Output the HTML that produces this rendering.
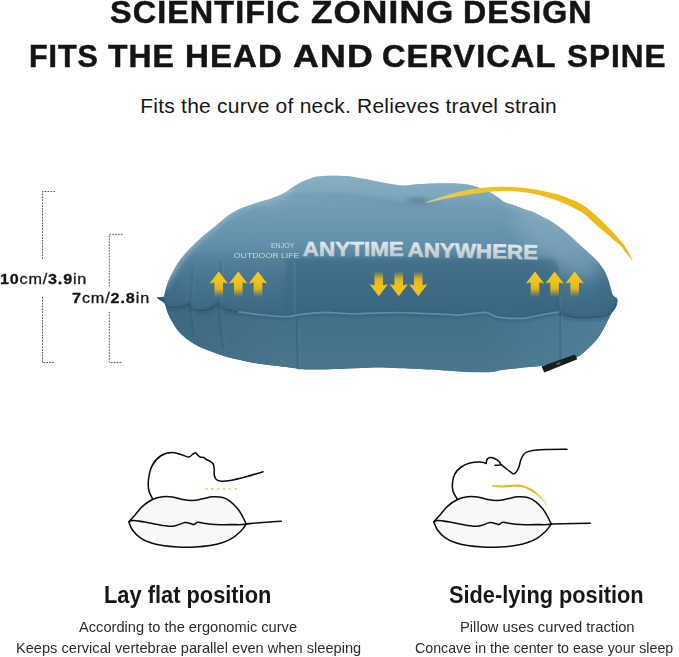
<!DOCTYPE html>
<html><head><meta charset="utf-8">
<style>
html,body{margin:0;padding:0;background:#fff;}
body{width:679px;height:657px;position:relative;overflow:hidden;font-family:"Liberation Sans",sans-serif;color:#161616;}
.t{position:absolute;white-space:nowrap;transform-origin:0 0;line-height:1;}
.b{font-weight:bold;}
#d1,#d2{-webkit-text-stroke:.3px #161616;}
.hw{font-size:31px;font-weight:bold;letter-spacing:1px;-webkit-text-stroke:.5px #141414;color:#141414;}
#sub{left:140.3px;top:94.7px;font-size:21px;letter-spacing:.23px;}
#d1{left:-0.2px;top:271px;font-size:15px;letter-spacing:.73px;transform:scaleX(1.08);}
#d2{left:71.5px;top:290.1px;font-size:15px;letter-spacing:.8px;transform:scaleX(1.08);}
#c1{left:104.2px;top:584.1px;font-size:23px;font-weight:bold;transform:scaleX(.949);}
#c2{left:449px;top:584.1px;font-size:23px;font-weight:bold;transform:scaleX(.946);}
#p1{left:79px;top:619.4px;font-size:15px;color:#2b2b2b;transform:scaleX(.976);}
#p2{left:16px;top:640px;font-size:15px;color:#2b2b2b;transform:scaleX(.974);}
#p3{left:460px;top:619.4px;font-size:15px;color:#2b2b2b;transform:scaleX(.983);}
#p4{left:414.8px;top:640px;font-size:15px;color:#2b2b2b;transform:scaleX(.947);}
</style></head><body>
<svg id="art" width="679" height="657" viewBox="0 0 679 657" style="position:absolute;left:0;top:0">
<defs>
<clipPath id="pc"><path d="M156.60 297.50 C157.33 297.47 159.78 297.48 161.00 297.30 C162.22 297.12 163.07 297.93 163.90 296.40 C164.73 294.87 165.15 290.90 166.00 288.10 C166.85 285.30 167.77 282.43 169.00 279.60 C170.23 276.77 171.87 273.93 173.40 271.10 C174.93 268.27 176.38 265.33 178.20 262.60 C180.02 259.87 182.27 257.13 184.30 254.70 C186.33 252.27 188.37 250.13 190.40 248.00 C192.43 245.87 194.47 243.83 196.50 241.90 C198.53 239.97 200.57 238.15 202.60 236.40 C204.63 234.65 206.63 233.05 208.70 231.40 C210.77 229.75 212.87 228.23 215.00 226.50 C217.13 224.77 219.05 222.98 221.50 221.00 C223.95 219.02 227.10 216.40 229.70 214.60 C232.30 212.80 234.63 211.47 237.10 210.20 C239.57 208.93 242.05 207.95 244.50 207.00 C246.95 206.05 249.35 205.32 251.80 204.50 C254.25 203.68 256.75 202.83 259.20 202.10 C261.65 201.37 264.05 200.88 266.50 200.10 C268.95 199.32 271.43 198.33 273.90 197.40 C276.37 196.47 279.08 195.53 281.30 194.50 C283.52 193.47 285.23 192.43 287.20 191.20 C289.17 189.97 291.15 188.40 293.10 187.10 C295.05 185.80 296.95 184.50 298.90 183.40 C300.85 182.30 302.83 181.32 304.80 180.50 C306.77 179.68 308.60 179.15 310.70 178.50 C312.80 177.85 315.07 177.03 317.40 176.60 C319.73 176.17 322.25 176.05 324.70 175.90 C327.15 175.75 329.63 175.73 332.10 175.70 C334.57 175.67 337.05 175.63 339.50 175.70 C341.95 175.77 344.35 175.87 346.80 176.10 C349.25 176.33 351.75 176.70 354.20 177.10 C356.65 177.50 359.05 178.07 361.50 178.50 C363.95 178.93 366.43 179.25 368.90 179.70 C371.37 180.15 373.85 180.70 376.30 181.20 C378.75 181.70 381.15 182.22 383.60 182.70 C386.05 183.18 388.53 183.68 391.00 184.10 C393.47 184.52 396.18 184.97 398.40 185.20 C400.62 185.43 402.37 185.53 404.30 185.50 C406.23 185.47 407.43 185.25 410.00 185.00 C412.57 184.75 415.62 184.27 419.70 184.00 C423.78 183.73 429.58 183.53 434.50 183.40 C439.42 183.27 444.30 183.12 449.20 183.20 C454.10 183.28 460.22 183.55 463.90 183.90 C467.58 184.25 468.85 184.72 471.30 185.30 C473.75 185.88 476.15 186.57 478.60 187.40 C481.05 188.23 483.53 189.17 486.00 190.30 C488.47 191.43 491.18 192.87 493.40 194.20 C495.62 195.53 497.57 197.03 499.30 198.30 C501.03 199.57 502.07 200.87 503.80 201.80 C505.53 202.73 507.48 203.17 509.70 203.90 C511.92 204.63 514.63 205.32 517.10 206.20 C519.57 207.08 522.05 208.30 524.50 209.20 C526.95 210.10 529.22 210.53 531.80 211.60 C534.38 212.67 537.55 214.40 540.00 215.60 C542.45 216.80 544.47 217.73 546.50 218.80 C548.53 219.87 550.20 220.73 552.20 222.00 C554.20 223.27 556.47 224.90 558.50 226.40 C560.53 227.90 562.40 229.35 564.40 231.00 C566.40 232.65 568.48 234.50 570.50 236.30 C572.52 238.10 574.48 239.98 576.50 241.80 C578.52 243.62 580.57 245.37 582.60 247.20 C584.63 249.03 586.83 251.07 588.70 252.80 C590.57 254.53 592.17 255.98 593.80 257.60 C595.43 259.22 596.70 260.27 598.50 262.50 C600.30 264.73 602.98 268.18 604.60 271.00 C606.22 273.82 607.17 276.57 608.20 279.40 C609.23 282.23 610.03 285.45 610.80 288.00 C611.57 290.55 611.78 292.98 612.80 294.70 C613.82 296.42 616.10 297.33 616.90 298.30 C617.70 299.27 617.48 300.13 617.60 300.50 C617.47 301.17 617.15 303.25 616.80 304.50 C616.45 305.75 616.22 306.75 615.50 308.00 C614.78 309.25 613.50 310.48 612.50 312.00 C611.50 313.52 610.73 314.78 609.50 317.10 C608.27 319.42 606.82 322.72 605.10 325.90 C603.38 329.08 601.40 333.00 599.20 336.20 C597.00 339.40 594.35 342.52 591.90 345.10 C589.45 347.68 586.97 349.73 584.50 351.70 C582.03 353.67 581.18 355.18 577.10 356.90 C573.02 358.62 565.77 360.52 560.00 362.00 C554.23 363.48 547.50 364.97 542.50 365.80 C537.50 366.63 534.02 366.60 530.00 367.00 C525.98 367.40 522.80 367.73 518.40 368.20 C514.00 368.67 507.28 369.30 503.60 369.80 C499.92 370.30 498.75 370.80 496.30 371.20 C493.85 371.60 492.58 372.02 488.90 372.20 C485.22 372.38 479.10 372.40 474.20 372.30 C469.30 372.20 464.42 371.88 459.50 371.60 C454.58 371.32 449.62 370.93 444.70 370.60 C439.78 370.27 437.45 370.00 430.00 369.60 C422.55 369.20 409.17 368.53 400.00 368.20 C390.83 367.87 383.33 367.53 375.00 367.60 C366.67 367.67 358.33 368.28 350.00 368.60 C341.67 368.92 333.33 369.38 325.00 369.50 C316.67 369.62 305.00 369.52 300.00 369.30 C295.00 369.08 299.17 368.79 295.00 368.20 C290.83 367.61 282.50 366.73 275.00 365.75 C267.50 364.77 255.87 363.24 250.00 362.30 C244.13 361.36 243.45 360.95 239.80 360.10 C236.15 359.25 232.02 358.30 228.10 357.20 C224.18 356.10 220.23 354.85 216.30 353.50 C212.37 352.15 208.18 350.70 204.50 349.10 C200.82 347.50 197.40 345.75 194.20 343.90 C191.00 342.05 188.00 340.20 185.30 338.00 C182.60 335.80 180.20 333.40 178.00 330.70 C175.80 328.00 173.82 324.75 172.10 321.80 C170.38 318.85 168.93 316.07 167.70 313.00 C166.47 309.93 165.90 305.52 164.70 303.40 C163.50 301.28 161.85 301.28 160.50 300.30 C159.15 299.32 157.25 297.97 156.60 297.50Z"/></clipPath>
<linearGradient id="gBody" x1="0" y1="176" x2="0" y2="372" gradientUnits="userSpaceOnUse">
<stop offset="0" stop-color="#8aaec2"/><stop offset=".07" stop-color="#7ea6bb"/><stop offset=".12" stop-color="#749fb5"/><stop offset=".25" stop-color="#6a97b0"/><stop offset=".352" stop-color="#6190aa"/><stop offset=".44" stop-color="#517f9a"/><stop offset=".53" stop-color="#477590"/><stop offset=".63" stop-color="#406d88"/><stop offset=".69" stop-color="#3d6984"/><stop offset="1" stop-color="#3c6883"/>
</linearGradient>
<linearGradient id="gLow" x1="0" y1="305" x2="0" y2="372" gradientUnits="userSpaceOnUse">
<stop offset="0" stop-color="#436f89"/><stop offset=".5" stop-color="#45728b"/><stop offset="1" stop-color="#49768d"/>
</linearGradient>
<linearGradient id="gLowX" x1="157" y1="0" x2="618" y2="0" gradientUnits="userSpaceOnUse">
<stop offset="0" stop-color="#2f566d" stop-opacity=".35"/><stop offset=".25" stop-color="#2f566d" stop-opacity="0"/><stop offset=".7" stop-color="#6a9dba" stop-opacity="0"/><stop offset="1" stop-color="#6a9dba" stop-opacity=".3"/>
</linearGradient>
<linearGradient id="gYc" x1="493" y1="0" x2="547" y2="0" gradientUnits="userSpaceOnUse"><stop offset="0" stop-color="#e2bd3c" stop-opacity=".8"/><stop offset=".15" stop-color="#e4b828"/><stop offset=".75" stop-color="#e4b828"/><stop offset="1" stop-color="#ecd069" stop-opacity=".5"/></linearGradient>
<linearGradient id="gSw" x1="425" y1="0" x2="634" y2="0" gradientUnits="userSpaceOnUse">
<stop offset="0" stop-color="#f6dc78" stop-opacity=".75"/><stop offset=".2" stop-color="#f1c632"/><stop offset=".5" stop-color="#eebd1c"/><stop offset="1" stop-color="#ecb815"/>
</linearGradient>
<linearGradient id="gUp" x1="0" y1="0" x2="0" y2="1"><stop offset="0" stop-color="#f4cd28"/><stop offset=".45" stop-color="#edc11c"/><stop offset=".68" stop-color="#e6b81a" stop-opacity=".95"/><stop offset="1" stop-color="#dcae18" stop-opacity="0"/></linearGradient>
<linearGradient id="gDn" x1="0" y1="1" x2="0" y2="0"><stop offset="0" stop-color="#efc31e"/><stop offset=".45" stop-color="#edc11c"/><stop offset=".68" stop-color="#e6b81a" stop-opacity=".95"/><stop offset="1" stop-color="#dcae18" stop-opacity="0"/></linearGradient>
<filter id="b2" x="-20%" y="-20%" width="140%" height="140%"><feGaussianBlur stdDeviation="2"/></filter>
<filter id="b4" x="-20%" y="-20%" width="140%" height="140%"><feGaussianBlur stdDeviation="4"/></filter>
<filter id="b8" x="-30%" y="-30%" width="160%" height="160%"><feGaussianBlur stdDeviation="8"/></filter>
<filter id="b05" x="-20%" y="-20%" width="140%" height="140%"><feGaussianBlur stdDeviation=".45"/></filter>
<filter id="b1" x="-20%" y="-20%" width="140%" height="140%"><feGaussianBlur stdDeviation=".8"/></filter>
<linearGradient id="gTxt" x1="0" y1="242" x2="0" y2="256.5" gradientUnits="userSpaceOnUse"><stop offset="0" stop-color="#e4e8ea"/><stop offset="1" stop-color="#bdc8cf"/></linearGradient>
</defs>
<g fill="none" stroke="#555" stroke-width="1" stroke-dasharray="1.7 1.2">
<path d="M55 191.5H42.5V260"/><path d="M42.5 296.8V362.5H55"/>
<path d="M122.5 234.3H109.3V287"/><path d="M109.3 311.8V362.5H122.5"/>
</g>
<path d="M156.60 297.50 C157.33 297.47 159.78 297.48 161.00 297.30 C162.22 297.12 163.07 297.93 163.90 296.40 C164.73 294.87 165.15 290.90 166.00 288.10 C166.85 285.30 167.77 282.43 169.00 279.60 C170.23 276.77 171.87 273.93 173.40 271.10 C174.93 268.27 176.38 265.33 178.20 262.60 C180.02 259.87 182.27 257.13 184.30 254.70 C186.33 252.27 188.37 250.13 190.40 248.00 C192.43 245.87 194.47 243.83 196.50 241.90 C198.53 239.97 200.57 238.15 202.60 236.40 C204.63 234.65 206.63 233.05 208.70 231.40 C210.77 229.75 212.87 228.23 215.00 226.50 C217.13 224.77 219.05 222.98 221.50 221.00 C223.95 219.02 227.10 216.40 229.70 214.60 C232.30 212.80 234.63 211.47 237.10 210.20 C239.57 208.93 242.05 207.95 244.50 207.00 C246.95 206.05 249.35 205.32 251.80 204.50 C254.25 203.68 256.75 202.83 259.20 202.10 C261.65 201.37 264.05 200.88 266.50 200.10 C268.95 199.32 271.43 198.33 273.90 197.40 C276.37 196.47 279.08 195.53 281.30 194.50 C283.52 193.47 285.23 192.43 287.20 191.20 C289.17 189.97 291.15 188.40 293.10 187.10 C295.05 185.80 296.95 184.50 298.90 183.40 C300.85 182.30 302.83 181.32 304.80 180.50 C306.77 179.68 308.60 179.15 310.70 178.50 C312.80 177.85 315.07 177.03 317.40 176.60 C319.73 176.17 322.25 176.05 324.70 175.90 C327.15 175.75 329.63 175.73 332.10 175.70 C334.57 175.67 337.05 175.63 339.50 175.70 C341.95 175.77 344.35 175.87 346.80 176.10 C349.25 176.33 351.75 176.70 354.20 177.10 C356.65 177.50 359.05 178.07 361.50 178.50 C363.95 178.93 366.43 179.25 368.90 179.70 C371.37 180.15 373.85 180.70 376.30 181.20 C378.75 181.70 381.15 182.22 383.60 182.70 C386.05 183.18 388.53 183.68 391.00 184.10 C393.47 184.52 396.18 184.97 398.40 185.20 C400.62 185.43 402.37 185.53 404.30 185.50 C406.23 185.47 407.43 185.25 410.00 185.00 C412.57 184.75 415.62 184.27 419.70 184.00 C423.78 183.73 429.58 183.53 434.50 183.40 C439.42 183.27 444.30 183.12 449.20 183.20 C454.10 183.28 460.22 183.55 463.90 183.90 C467.58 184.25 468.85 184.72 471.30 185.30 C473.75 185.88 476.15 186.57 478.60 187.40 C481.05 188.23 483.53 189.17 486.00 190.30 C488.47 191.43 491.18 192.87 493.40 194.20 C495.62 195.53 497.57 197.03 499.30 198.30 C501.03 199.57 502.07 200.87 503.80 201.80 C505.53 202.73 507.48 203.17 509.70 203.90 C511.92 204.63 514.63 205.32 517.10 206.20 C519.57 207.08 522.05 208.30 524.50 209.20 C526.95 210.10 529.22 210.53 531.80 211.60 C534.38 212.67 537.55 214.40 540.00 215.60 C542.45 216.80 544.47 217.73 546.50 218.80 C548.53 219.87 550.20 220.73 552.20 222.00 C554.20 223.27 556.47 224.90 558.50 226.40 C560.53 227.90 562.40 229.35 564.40 231.00 C566.40 232.65 568.48 234.50 570.50 236.30 C572.52 238.10 574.48 239.98 576.50 241.80 C578.52 243.62 580.57 245.37 582.60 247.20 C584.63 249.03 586.83 251.07 588.70 252.80 C590.57 254.53 592.17 255.98 593.80 257.60 C595.43 259.22 596.70 260.27 598.50 262.50 C600.30 264.73 602.98 268.18 604.60 271.00 C606.22 273.82 607.17 276.57 608.20 279.40 C609.23 282.23 610.03 285.45 610.80 288.00 C611.57 290.55 611.78 292.98 612.80 294.70 C613.82 296.42 616.10 297.33 616.90 298.30 C617.70 299.27 617.48 300.13 617.60 300.50 C617.47 301.17 617.15 303.25 616.80 304.50 C616.45 305.75 616.22 306.75 615.50 308.00 C614.78 309.25 613.50 310.48 612.50 312.00 C611.50 313.52 610.73 314.78 609.50 317.10 C608.27 319.42 606.82 322.72 605.10 325.90 C603.38 329.08 601.40 333.00 599.20 336.20 C597.00 339.40 594.35 342.52 591.90 345.10 C589.45 347.68 586.97 349.73 584.50 351.70 C582.03 353.67 581.18 355.18 577.10 356.90 C573.02 358.62 565.77 360.52 560.00 362.00 C554.23 363.48 547.50 364.97 542.50 365.80 C537.50 366.63 534.02 366.60 530.00 367.00 C525.98 367.40 522.80 367.73 518.40 368.20 C514.00 368.67 507.28 369.30 503.60 369.80 C499.92 370.30 498.75 370.80 496.30 371.20 C493.85 371.60 492.58 372.02 488.90 372.20 C485.22 372.38 479.10 372.40 474.20 372.30 C469.30 372.20 464.42 371.88 459.50 371.60 C454.58 371.32 449.62 370.93 444.70 370.60 C439.78 370.27 437.45 370.00 430.00 369.60 C422.55 369.20 409.17 368.53 400.00 368.20 C390.83 367.87 383.33 367.53 375.00 367.60 C366.67 367.67 358.33 368.28 350.00 368.60 C341.67 368.92 333.33 369.38 325.00 369.50 C316.67 369.62 305.00 369.52 300.00 369.30 C295.00 369.08 299.17 368.79 295.00 368.20 C290.83 367.61 282.50 366.73 275.00 365.75 C267.50 364.77 255.87 363.24 250.00 362.30 C244.13 361.36 243.45 360.95 239.80 360.10 C236.15 359.25 232.02 358.30 228.10 357.20 C224.18 356.10 220.23 354.85 216.30 353.50 C212.37 352.15 208.18 350.70 204.50 349.10 C200.82 347.50 197.40 345.75 194.20 343.90 C191.00 342.05 188.00 340.20 185.30 338.00 C182.60 335.80 180.20 333.40 178.00 330.70 C175.80 328.00 173.82 324.75 172.10 321.80 C170.38 318.85 168.93 316.07 167.70 313.00 C166.47 309.93 165.90 305.52 164.70 303.40 C163.50 301.28 161.85 301.28 160.50 300.30 C159.15 299.32 157.25 297.97 156.60 297.50Z" fill="url(#gBody)"/>
<g clip-path="url(#pc)">
<path d="M270 168 L520 168 L545 222 C515 205 480 198 445 200 C415 204 385 200 345 196 C315 194 290 199 262 212 Z" fill="#86adc3" opacity=".5" filter="url(#b4)"/>
<path d="M292 196 C330 192 360 196 395 204 C410 207 425 206 440 203" fill="none" stroke="#5a8aa5" stroke-width="3" opacity=".45" filter="url(#b2)"/>
<path d="M166.00 288.10 C166.50 286.68 167.77 282.43 169.00 279.60 C170.23 276.77 171.87 273.93 173.40 271.10 C174.93 268.27 176.38 265.33 178.20 262.60 C180.02 259.87 182.27 257.13 184.30 254.70 C186.33 252.27 188.37 250.13 190.40 248.00 C192.43 245.87 194.47 243.83 196.50 241.90 C198.53 239.97 200.57 238.15 202.60 236.40 C204.63 234.65 206.63 233.05 208.70 231.40 C210.77 229.75 212.87 228.23 215.00 226.50 C217.13 224.77 219.05 222.98 221.50 221.00 C223.95 219.02 227.10 216.40 229.70 214.60 C232.30 212.80 234.63 211.47 237.10 210.20 C239.57 208.93 242.05 207.95 244.50 207.00 C246.95 206.05 249.35 205.32 251.80 204.50 C254.25 203.68 256.75 202.83 259.20 202.10 C261.65 201.37 264.05 200.88 266.50 200.10 C268.95 199.32 271.43 198.33 273.90 197.40 C276.37 196.47 279.08 195.53 281.30 194.50 C283.52 193.47 285.23 192.43 287.20 191.20 C289.17 189.97 292.12 187.78 293.10 187.10" fill="none" stroke="#93b7ca" stroke-width="7" opacity=".6" filter="url(#b2)"/>
<path d="M503.80 201.80 C504.78 202.15 507.48 203.17 509.70 203.90 C511.92 204.63 514.63 205.32 517.10 206.20 C519.57 207.08 522.05 208.30 524.50 209.20 C526.95 210.10 529.22 210.53 531.80 211.60 C534.38 212.67 537.55 214.40 540.00 215.60 C542.45 216.80 544.47 217.73 546.50 218.80 C548.53 219.87 550.20 220.73 552.20 222.00 C554.20 223.27 556.47 224.90 558.50 226.40 C560.53 227.90 562.40 229.35 564.40 231.00 C566.40 232.65 568.48 234.50 570.50 236.30 C572.52 238.10 574.48 239.98 576.50 241.80 C578.52 243.62 580.57 245.37 582.60 247.20 C584.63 249.03 586.83 251.07 588.70 252.80 C590.57 254.53 592.17 255.98 593.80 257.60 C595.43 259.22 597.72 261.68 598.50 262.50" fill="none" stroke="#8ab1c6" stroke-width="5" opacity=".45" filter="url(#b2)"/>
<ellipse cx="556" cy="242" rx="52" ry="20" transform="rotate(40 556 242)" fill="#8fb1c4" opacity=".5" filter="url(#b8)"/>
<ellipse cx="170" cy="292" rx="10" ry="16" fill="#3a657e" opacity=".35" filter="url(#b4)"/>
<ellipse cx="606" cy="292" rx="9" ry="16" fill="#3a657e" opacity=".3" filter="url(#b4)"/>
<path d="M286 258.5 C350 257.5 480 257.5 556 259.5 L560 318 L284 320Z" fill="#396681" opacity=".55" filter="url(#b2)"/>
<path d="M294 260 C294.5 280 295 300 295.6 316" fill="none" stroke="#7aa7bf" stroke-width="1.2" opacity=".4" filter="url(#b1)"/>
<ellipse cx="417" cy="200.5" rx="11" ry="3.5" fill="#3f6b85" opacity=".4" filter="url(#b2)"/>
<path d="M156.60 297.60 C157.95 298.57 162.62 301.82 164.70 303.40 C166.78 304.98 166.63 306.48 169.10 307.10 C171.57 307.72 176.55 307.47 179.50 307.10 C182.45 306.73 185.08 305.40 186.80 304.90 C188.52 304.40 188.93 303.48 189.80 304.10 C190.67 304.72 190.53 307.48 192.00 308.60 C193.47 309.72 195.78 310.68 198.60 310.80 C201.42 310.92 206.20 310.17 208.90 309.30 C211.60 308.43 213.20 306.55 214.80 305.60 C216.40 304.65 217.52 303.35 218.50 303.60 C219.48 303.85 219.10 306.03 220.70 307.10 C222.30 308.17 225.15 309.22 228.10 310.00 C231.05 310.78 234.75 311.25 238.40 311.80 C242.05 312.35 245.98 312.77 250.00 313.30 C254.02 313.83 256.25 314.47 262.50 315.00 C268.75 315.53 281.25 316.58 287.50 316.50 C293.75 316.42 293.75 315.20 300.00 314.50 C306.25 313.80 316.67 312.43 325.00 312.30 C333.33 312.18 341.67 313.63 350.00 313.75 C358.33 313.87 366.67 313.21 375.00 313.00 C383.33 312.79 391.67 312.42 400.00 312.50 C408.33 312.58 416.67 313.17 425.00 313.50 C433.33 313.83 444.17 314.25 450.00 314.50 C455.83 314.75 454.17 315.37 460.00 315.00 C465.83 314.63 478.75 311.97 485.00 312.30 C491.25 312.63 491.25 316.00 497.50 317.00 C503.75 318.00 515.42 318.63 522.50 318.30 C529.58 317.97 534.33 316.00 540.00 315.00 C545.67 314.00 553.25 312.87 556.50 312.30 C559.75 311.73 558.58 311.32 559.50 311.60 C560.42 311.88 560.78 313.30 562.00 314.00 C563.22 314.70 564.03 315.17 566.80 315.80 C569.57 316.43 573.68 317.58 578.60 317.80 C583.52 318.02 591.63 317.50 596.30 317.10 C600.97 316.70 603.98 316.33 606.60 315.40 C609.22 314.47 610.18 313.97 612.00 311.50 C613.82 309.03 616.58 302.42 617.50 300.60 C617.38 301.25 617.13 303.27 616.80 304.50 C616.47 305.73 616.22 306.75 615.50 308.00 C614.78 309.25 613.50 310.48 612.50 312.00 C611.50 313.52 610.73 314.78 609.50 317.10 C608.27 319.42 606.82 322.72 605.10 325.90 C603.38 329.08 601.40 333.00 599.20 336.20 C597.00 339.40 594.35 342.52 591.90 345.10 C589.45 347.68 586.97 349.73 584.50 351.70 C582.03 353.67 581.18 355.18 577.10 356.90 C573.02 358.62 565.77 360.52 560.00 362.00 C554.23 363.48 547.50 364.97 542.50 365.80 C537.50 366.63 534.02 366.60 530.00 367.00 C525.98 367.40 522.80 367.73 518.40 368.20 C514.00 368.67 507.28 369.30 503.60 369.80 C499.92 370.30 498.75 370.80 496.30 371.20 C493.85 371.60 492.58 372.02 488.90 372.20 C485.22 372.38 479.10 372.40 474.20 372.30 C469.30 372.20 464.42 371.88 459.50 371.60 C454.58 371.32 449.62 370.93 444.70 370.60 C439.78 370.27 437.45 370.00 430.00 369.60 C422.55 369.20 409.17 368.53 400.00 368.20 C390.83 367.87 383.33 367.53 375.00 367.60 C366.67 367.67 358.33 368.28 350.00 368.60 C341.67 368.92 333.33 369.38 325.00 369.50 C316.67 369.62 305.00 369.52 300.00 369.30 C295.00 369.08 299.17 368.79 295.00 368.20 C290.83 367.61 282.50 366.73 275.00 365.75 C267.50 364.77 255.87 363.24 250.00 362.30 C244.13 361.36 243.45 360.95 239.80 360.10 C236.15 359.25 232.02 358.30 228.10 357.20 C224.18 356.10 220.23 354.85 216.30 353.50 C212.37 352.15 208.18 350.70 204.50 349.10 C200.82 347.50 197.40 345.75 194.20 343.90 C191.00 342.05 188.00 340.20 185.30 338.00 C182.60 335.80 180.20 333.40 178.00 330.70 C175.80 328.00 173.82 324.75 172.10 321.80 C170.38 318.85 168.93 316.07 167.70 313.00 C166.47 309.93 165.90 305.52 164.70 303.40 C163.50 301.28 161.85 301.28 160.50 300.30 C159.15 299.32 157.25 297.97 156.60 297.50Z" fill="url(#gLow)"/>
<path d="M156.60 297.60 C157.95 298.57 162.62 301.82 164.70 303.40 C166.78 304.98 166.63 306.48 169.10 307.10 C171.57 307.72 176.55 307.47 179.50 307.10 C182.45 306.73 185.08 305.40 186.80 304.90 C188.52 304.40 188.93 303.48 189.80 304.10 C190.67 304.72 190.53 307.48 192.00 308.60 C193.47 309.72 195.78 310.68 198.60 310.80 C201.42 310.92 206.20 310.17 208.90 309.30 C211.60 308.43 213.20 306.55 214.80 305.60 C216.40 304.65 217.52 303.35 218.50 303.60 C219.48 303.85 219.10 306.03 220.70 307.10 C222.30 308.17 225.15 309.22 228.10 310.00 C231.05 310.78 234.75 311.25 238.40 311.80 C242.05 312.35 245.98 312.77 250.00 313.30 C254.02 313.83 256.25 314.47 262.50 315.00 C268.75 315.53 281.25 316.58 287.50 316.50 C293.75 316.42 293.75 315.20 300.00 314.50 C306.25 313.80 316.67 312.43 325.00 312.30 C333.33 312.18 341.67 313.63 350.00 313.75 C358.33 313.87 366.67 313.21 375.00 313.00 C383.33 312.79 391.67 312.42 400.00 312.50 C408.33 312.58 416.67 313.17 425.00 313.50 C433.33 313.83 444.17 314.25 450.00 314.50 C455.83 314.75 454.17 315.37 460.00 315.00 C465.83 314.63 478.75 311.97 485.00 312.30 C491.25 312.63 491.25 316.00 497.50 317.00 C503.75 318.00 515.42 318.63 522.50 318.30 C529.58 317.97 534.33 316.00 540.00 315.00 C545.67 314.00 553.25 312.87 556.50 312.30 C559.75 311.73 558.58 311.32 559.50 311.60 C560.42 311.88 560.78 313.30 562.00 314.00 C563.22 314.70 564.03 315.17 566.80 315.80 C569.57 316.43 573.68 317.58 578.60 317.80 C583.52 318.02 591.63 317.50 596.30 317.10 C600.97 316.70 603.98 316.33 606.60 315.40 C609.22 314.47 610.18 313.97 612.00 311.50 C613.82 309.03 616.58 302.42 617.50 300.60 C617.38 301.25 617.13 303.27 616.80 304.50 C616.47 305.73 616.22 306.75 615.50 308.00 C614.78 309.25 613.50 310.48 612.50 312.00 C611.50 313.52 610.73 314.78 609.50 317.10 C608.27 319.42 606.82 322.72 605.10 325.90 C603.38 329.08 601.40 333.00 599.20 336.20 C597.00 339.40 594.35 342.52 591.90 345.10 C589.45 347.68 586.97 349.73 584.50 351.70 C582.03 353.67 581.18 355.18 577.10 356.90 C573.02 358.62 565.77 360.52 560.00 362.00 C554.23 363.48 547.50 364.97 542.50 365.80 C537.50 366.63 534.02 366.60 530.00 367.00 C525.98 367.40 522.80 367.73 518.40 368.20 C514.00 368.67 507.28 369.30 503.60 369.80 C499.92 370.30 498.75 370.80 496.30 371.20 C493.85 371.60 492.58 372.02 488.90 372.20 C485.22 372.38 479.10 372.40 474.20 372.30 C469.30 372.20 464.42 371.88 459.50 371.60 C454.58 371.32 449.62 370.93 444.70 370.60 C439.78 370.27 437.45 370.00 430.00 369.60 C422.55 369.20 409.17 368.53 400.00 368.20 C390.83 367.87 383.33 367.53 375.00 367.60 C366.67 367.67 358.33 368.28 350.00 368.60 C341.67 368.92 333.33 369.38 325.00 369.50 C316.67 369.62 305.00 369.52 300.00 369.30 C295.00 369.08 299.17 368.79 295.00 368.20 C290.83 367.61 282.50 366.73 275.00 365.75 C267.50 364.77 255.87 363.24 250.00 362.30 C244.13 361.36 243.45 360.95 239.80 360.10 C236.15 359.25 232.02 358.30 228.10 357.20 C224.18 356.10 220.23 354.85 216.30 353.50 C212.37 352.15 208.18 350.70 204.50 349.10 C200.82 347.50 197.40 345.75 194.20 343.90 C191.00 342.05 188.00 340.20 185.30 338.00 C182.60 335.80 180.20 333.40 178.00 330.70 C175.80 328.00 173.82 324.75 172.10 321.80 C170.38 318.85 168.93 316.07 167.70 313.00 C166.47 309.93 165.90 305.52 164.70 303.40 C163.50 301.28 161.85 301.28 160.50 300.30 C159.15 299.32 157.25 297.97 156.60 297.50Z" fill="url(#gLowX)"/>
<path d="M156.60 297.60 C157.95 298.57 162.62 301.82 164.70 303.40 C166.78 304.98 166.63 306.48 169.10 307.10 C171.57 307.72 176.55 307.47 179.50 307.10 C182.45 306.73 185.08 305.40 186.80 304.90 C188.52 304.40 188.93 303.48 189.80 304.10 C190.67 304.72 190.53 307.48 192.00 308.60 C193.47 309.72 195.78 310.68 198.60 310.80 C201.42 310.92 206.20 310.17 208.90 309.30 C211.60 308.43 213.20 306.55 214.80 305.60 C216.40 304.65 217.52 303.35 218.50 303.60 C219.48 303.85 219.10 306.03 220.70 307.10 C222.30 308.17 225.15 309.22 228.10 310.00 C231.05 310.78 234.75 311.25 238.40 311.80 C242.05 312.35 245.98 312.77 250.00 313.30 C254.02 313.83 256.25 314.47 262.50 315.00 C268.75 315.53 281.25 316.58 287.50 316.50 C293.75 316.42 293.75 315.20 300.00 314.50 C306.25 313.80 316.67 312.43 325.00 312.30 C333.33 312.18 341.67 313.63 350.00 313.75 C358.33 313.87 366.67 313.21 375.00 313.00 C383.33 312.79 391.67 312.42 400.00 312.50 C408.33 312.58 416.67 313.17 425.00 313.50 C433.33 313.83 444.17 314.25 450.00 314.50 C455.83 314.75 454.17 315.37 460.00 315.00 C465.83 314.63 478.75 311.97 485.00 312.30 C491.25 312.63 491.25 316.00 497.50 317.00 C503.75 318.00 515.42 318.63 522.50 318.30 C529.58 317.97 534.33 316.00 540.00 315.00 C545.67 314.00 553.25 312.87 556.50 312.30 C559.75 311.73 558.58 311.32 559.50 311.60 C560.42 311.88 560.78 313.30 562.00 314.00 C563.22 314.70 564.03 315.17 566.80 315.80 C569.57 316.43 573.68 317.58 578.60 317.80 C583.52 318.02 591.63 317.50 596.30 317.10 C600.97 316.70 603.98 316.33 606.60 315.40 C609.22 314.47 610.18 313.97 612.00 311.50 C613.82 309.03 616.58 302.42 617.50 300.60" fill="none" stroke="#2f5a73" stroke-width="2.6" opacity=".5" transform="translate(0,2)" filter="url(#b1)"/>
<path d="M156.60 297.60 C157.95 298.57 162.62 301.82 164.70 303.40 C166.78 304.98 166.63 306.48 169.10 307.10 C171.57 307.72 176.55 307.47 179.50 307.10 C182.45 306.73 185.08 305.40 186.80 304.90 C188.52 304.40 188.93 303.48 189.80 304.10 C190.67 304.72 190.53 307.48 192.00 308.60 C193.47 309.72 195.78 310.68 198.60 310.80 C201.42 310.92 206.20 310.17 208.90 309.30 C211.60 308.43 213.20 306.55 214.80 305.60 C216.40 304.65 217.52 303.35 218.50 303.60 C219.48 303.85 219.10 306.03 220.70 307.10 C222.30 308.17 225.15 309.22 228.10 310.00 C231.05 310.78 234.75 311.25 238.40 311.80 C242.05 312.35 245.98 312.77 250.00 313.30 C254.02 313.83 256.25 314.47 262.50 315.00 C268.75 315.53 281.25 316.58 287.50 316.50 C293.75 316.42 293.75 315.20 300.00 314.50 C306.25 313.80 316.67 312.43 325.00 312.30 C333.33 312.18 341.67 313.63 350.00 313.75 C358.33 313.87 366.67 313.21 375.00 313.00 C383.33 312.79 391.67 312.42 400.00 312.50 C408.33 312.58 416.67 313.17 425.00 313.50 C433.33 313.83 444.17 314.25 450.00 314.50 C455.83 314.75 454.17 315.37 460.00 315.00 C465.83 314.63 478.75 311.97 485.00 312.30 C491.25 312.63 491.25 316.00 497.50 317.00 C503.75 318.00 515.42 318.63 522.50 318.30 C529.58 317.97 534.33 316.00 540.00 315.00 C545.67 314.00 553.25 312.87 556.50 312.30 C559.75 311.73 558.58 311.32 559.50 311.60 C560.42 311.88 560.78 313.30 562.00 314.00 C563.22 314.70 564.03 315.17 566.80 315.80 C569.57 316.43 573.68 317.58 578.60 317.80 C583.52 318.02 591.63 317.50 596.30 317.10 C600.97 316.70 603.98 316.33 606.60 315.40 C609.22 314.47 610.18 313.97 612.00 311.50 C613.82 309.03 616.58 302.42 617.50 300.60" fill="none" stroke="#2f5a73" stroke-width="1.6" opacity=".35" transform="translate(0,-1.6)" filter="url(#b1)"/>
<path d="M238.40 311.80 C240.33 312.05 245.98 312.77 250.00 313.30 C254.02 313.83 256.25 314.47 262.50 315.00 C268.75 315.53 281.25 316.58 287.50 316.50 C293.75 316.42 293.75 315.20 300.00 314.50 C306.25 313.80 316.67 312.43 325.00 312.30 C333.33 312.18 341.67 313.63 350.00 313.75 C358.33 313.87 366.67 313.21 375.00 313.00 C383.33 312.79 391.67 312.42 400.00 312.50 C408.33 312.58 416.67 313.17 425.00 313.50 C433.33 313.83 444.17 314.25 450.00 314.50 C455.83 314.75 454.17 315.37 460.00 315.00 C465.83 314.63 478.75 311.97 485.00 312.30 C491.25 312.63 491.25 316.00 497.50 317.00 C503.75 318.00 515.42 318.63 522.50 318.30 C529.58 317.97 534.33 316.00 540.00 315.00 C545.67 314.00 553.25 312.87 556.50 312.30 C559.75 311.73 559.00 311.72 559.50 311.60" fill="none" stroke="#7aa8c0" stroke-width="1.7" opacity=".6" filter="url(#b05)"/>
<path d="M156.60 297.60 C157.95 298.57 162.62 301.82 164.70 303.40 C166.78 304.98 166.63 306.48 169.10 307.10 C171.57 307.72 176.55 307.47 179.50 307.10 C182.45 306.73 185.08 305.40 186.80 304.90 C188.52 304.40 188.93 303.48 189.80 304.10 C190.67 304.72 190.53 307.48 192.00 308.60 C193.47 309.72 195.78 310.68 198.60 310.80 C201.42 310.92 206.20 310.17 208.90 309.30 C211.60 308.43 213.20 306.55 214.80 305.60 C216.40 304.65 217.52 303.35 218.50 303.60 C219.48 303.85 219.10 306.03 220.70 307.10 C222.30 308.17 225.15 309.22 228.10 310.00 C231.05 310.78 236.68 311.50 238.40 311.80" fill="none" stroke="#294f66" stroke-width="1.1" opacity=".75" filter="url(#b05)"/>
<path d="M559.50 311.60 C559.92 312.00 560.78 313.30 562.00 314.00 C563.22 314.70 564.03 315.17 566.80 315.80 C569.57 316.43 573.68 317.58 578.60 317.80 C583.52 318.02 591.63 317.50 596.30 317.10 C600.97 316.70 603.98 316.33 606.60 315.40 C609.22 314.47 610.18 313.97 612.00 311.50 C613.82 309.03 616.58 302.42 617.50 300.60" fill="none" stroke="#294f66" stroke-width="1.1" opacity=".7" filter="url(#b05)"/>
<path d="M221 262 C220.6 278 219.6 292 218.7 303.5" fill="none" stroke="#335d76" stroke-width="1.4" opacity=".65" filter="url(#b1)"/>
<path d="M221 262 C220.6 278 219.6 292 218.7 303.5" fill="none" stroke="#7aa7bf" stroke-width="1" opacity=".35" transform="translate(1.6,0)" filter="url(#b1)"/>
<path d="M192.8 268 C192.6 282 191.4 294 190 304" fill="none" stroke="#335d76" stroke-width="1.4" opacity=".65" filter="url(#b1)"/>
<path d="M192.8 268 C192.6 282 191.4 294 190 304" fill="none" stroke="#7aa7bf" stroke-width="1" opacity=".35" transform="translate(1.6,0)" filter="url(#b1)"/>
<path d="M557 266 C557.5 282 558.5 298 559.3 311.5" fill="none" stroke="#335d76" stroke-width="1.4" opacity=".65" filter="url(#b1)"/>
<path d="M557 266 C557.5 282 558.5 298 559.3 311.5" fill="none" stroke="#7aa7bf" stroke-width="1" opacity=".35" transform="translate(1.6,0)" filter="url(#b1)"/>
<path d="M189.8 304 C191.5 315 193 325 194.4 334" fill="none" stroke="#2c546b" stroke-width="1.4" opacity=".7" filter="url(#b1)"/>
<path d="M189.8 304 C191.5 315 193 325 194.4 334" fill="none" stroke="#6395b0" stroke-width="1.2" opacity=".45" transform="translate(1.8,0)" filter="url(#b1)"/>
<path d="M218.6 303.6 C220.5 320 222 336 223.8 350" fill="none" stroke="#2c546b" stroke-width="1.4" opacity=".7" filter="url(#b1)"/>
<path d="M218.6 303.6 C220.5 320 222 336 223.8 350" fill="none" stroke="#6395b0" stroke-width="1.2" opacity=".45" transform="translate(1.8,0)" filter="url(#b1)"/>
<path d="M559.5 311.8 C560 328 560.5 346 561 362" fill="none" stroke="#2c546b" stroke-width="1.4" opacity=".7" filter="url(#b1)"/>
<path d="M559.5 311.8 C560 328 560.5 346 561 362" fill="none" stroke="#6395b0" stroke-width="1.2" opacity=".45" transform="translate(1.8,0)" filter="url(#b1)"/>
<path d="M296.5 318 C297 335 297.5 352 298 368" fill="none" stroke="#2c546b" stroke-width="1.4" opacity=".7" filter="url(#b1)"/>
<path d="M296.5 318 C297 335 297.5 352 298 368" fill="none" stroke="#6395b0" stroke-width="1.2" opacity=".45" transform="translate(1.8,0)" filter="url(#b1)"/>
<path d="M492 314 C492 335 492 352 492 372" fill="none" stroke="#2c546b" stroke-width="1.2" opacity=".4" transform="translate(-1.5,0)" filter="url(#b1)"/>
<path d="M492 314 C492 335 492 352 492 372" fill="none" stroke="#5f90aa" stroke-width="1.2" opacity=".5" filter="url(#b1)"/>
</g>
<path d="M156.6 297.5 L163.9 296.4 L164.7 303.4 L160.5 300.3Z" fill="#2f5369" opacity=".7"/>
<path d="M541.6 366.6 L574.9 354.4 L577.3 359.2 L544.2 372.6Z" fill="#1a1c1e"/><path d="M556 363.2 L560 361.7 L561 364 L557 365.6Z" fill="#555a5e"/>
<g font-family="Liberation Sans, sans-serif" fill="#d3dee5" font-size="7.8" opacity=".92"><text x="294.4" y="248" text-anchor="end" textLength="23.5" lengthAdjust="spacingAndGlyphs">ENJOY</text><text x="299.4" y="257.8" text-anchor="end" textLength="65.6" lengthAdjust="spacingAndGlyphs">OUTDOOR LIFE</text></g>
<g font-family="Liberation Sans, sans-serif" font-weight="bold" font-size="20.2" fill="url(#gTxt)" stroke="url(#gTxt)" stroke-width=".6"><text x="302.8" y="256.4" textLength="101" lengthAdjust="spacingAndGlyphs">ANYTIME</text><text x="407.6" y="256.6" textLength="130.2" lengthAdjust="spacingAndGlyphs" transform="rotate(1.2 407.6 256.6)">ANYWHERE</text></g>
<path d="M218.75 271.50 L227.95 283.50 L223.05 282.50 L223.05 297.00 L214.45 297.00 L214.45 282.50 L209.55 283.50Z" fill="url(#gUp)"/>
<path d="M238.30 271.50 L247.50 283.50 L242.60 282.50 L242.60 297.00 L234.00 297.00 L234.00 282.50 L229.10 283.50Z" fill="url(#gUp)"/>
<path d="M258.00 271.50 L267.20 283.50 L262.30 282.50 L262.30 297.00 L253.70 297.00 L253.70 282.50 L248.80 283.50Z" fill="url(#gUp)"/>
<path d="M535.00 271.50 L544.20 283.50 L539.30 282.50 L539.30 297.00 L530.70 297.00 L530.70 282.50 L525.80 283.50Z" fill="url(#gUp)"/>
<path d="M554.60 271.50 L563.80 283.50 L558.90 282.50 L558.90 297.00 L550.30 297.00 L550.30 282.50 L545.40 283.50Z" fill="url(#gUp)"/>
<path d="M574.70 271.50 L583.90 283.50 L579.00 282.50 L579.00 297.00 L570.40 297.00 L570.40 282.50 L565.50 283.50Z" fill="url(#gUp)"/>
<path d="M378.75 296.20 L387.95 284.20 L383.05 285.20 L383.05 271.00 L374.45 271.00 L374.45 285.20 L369.55 284.20Z" fill="url(#gDn)"/>
<path d="M398.75 296.20 L407.95 284.20 L403.05 285.20 L403.05 271.00 L394.45 271.00 L394.45 285.20 L389.55 284.20Z" fill="url(#gDn)"/>
<path d="M418.25 296.20 L427.45 284.20 L422.55 285.20 L422.55 271.00 L413.95 271.00 L413.95 285.20 L409.05 284.20Z" fill="url(#gDn)"/>
<path d="M425.60 202.20 C429.53 200.92 441.58 196.65 449.20 194.50 C456.82 192.35 463.93 190.53 471.30 189.30 C478.67 188.07 487.00 187.48 493.40 187.10 C499.80 186.72 504.52 186.85 509.70 187.00 C514.88 187.15 519.58 187.45 524.50 188.00 C529.42 188.55 534.30 189.37 539.20 190.30 C544.10 191.23 550.43 192.82 553.90 193.60 C557.37 194.38 556.98 193.97 560.00 195.00 C563.02 196.03 567.93 197.98 572.00 199.80 C576.07 201.62 580.32 203.20 584.40 205.90 C588.48 208.60 592.45 212.35 596.50 216.00 C600.55 219.65 604.63 223.60 608.70 227.80 C612.77 232.00 617.77 237.42 620.90 241.20 C624.03 244.98 625.47 247.15 627.50 250.50 C629.53 253.85 632.17 259.50 633.10 261.30 L633.10 261.30 C631.92 259.88 628.03 255.35 626.00 252.80 C623.97 250.25 622.90 248.10 620.90 246.00 C618.90 243.90 616.03 241.97 614.00 240.20 C611.97 238.43 611.62 237.90 608.70 235.40 C605.78 232.90 600.55 228.78 596.50 225.20 C592.45 221.62 588.48 216.90 584.40 213.90 C580.32 210.90 576.07 209.25 572.00 207.20 C567.93 205.15 563.02 202.88 560.00 201.60 C556.98 200.32 557.37 200.62 553.90 199.50 C550.43 198.38 544.10 196.12 539.20 194.90 C534.30 193.68 529.42 192.85 524.50 192.20 C519.58 191.55 514.88 191.12 509.70 191.00 C504.52 190.88 499.80 190.97 493.40 191.50 C487.00 192.03 478.67 193.10 471.30 194.20 C463.93 195.30 456.82 196.63 449.20 198.10 C441.58 199.57 429.53 202.18 425.60 203.00 Z" fill="url(#gSw)"/>
<g fill="none" stroke="#0c0c0c" stroke-width="1.55" stroke-linecap="round" stroke-linejoin="round">
<path d="M152.50 498.75 C151.88 497.29 149.38 493.54 148.75 490.00 C148.12 486.46 148.12 481.67 148.75 477.50 C149.38 473.33 150.42 468.67 152.50 465.00 C154.58 461.33 157.92 457.58 161.25 455.50 C164.58 453.42 168.96 452.58 172.50 452.50 C176.04 452.42 179.79 454.25 182.50 455.00 C185.21 455.75 187.03 457.13 188.75 457.00 C190.47 456.87 191.66 454.92 192.80 454.20 C193.94 453.48 194.80 452.57 195.60 452.70 C196.40 452.83 196.87 454.28 197.60 455.00 C198.33 455.72 198.97 456.58 200.00 457.00 C201.03 457.42 202.71 457.08 203.75 457.50 C204.79 457.92 205.21 458.88 206.25 459.50 C207.29 460.12 208.88 460.54 210.00 461.25 C211.12 461.96 212.29 462.50 213.00 463.75 C213.71 465.00 214.04 466.88 214.25 468.75 C214.46 470.62 213.92 473.21 214.25 475.00 C214.58 476.79 215.08 478.46 216.25 479.50 C217.42 480.54 218.96 481.08 221.25 481.25 C223.54 481.42 226.04 481.21 230.00 480.50 C233.96 479.79 239.50 478.46 245.00 477.00 C250.50 475.54 260.00 472.62 263.00 471.75"/>
<g><path d="M128.80 521.80 C129.83 520.67 132.72 517.58 135.00 515.00 C137.28 512.42 139.58 508.88 142.50 506.30 C145.42 503.72 149.15 501.08 152.50 499.50 C155.85 497.92 159.25 497.22 162.60 496.80 C165.95 496.38 169.27 496.55 172.60 497.00 C175.93 497.45 179.27 498.92 182.60 499.50 C185.93 500.08 189.27 500.62 192.60 500.50 C195.93 500.38 199.27 499.42 202.60 498.80 C205.93 498.18 209.25 497.02 212.60 496.80 C215.95 496.58 219.77 496.75 222.70 497.50 C225.63 498.25 227.70 499.42 230.20 501.30 C232.70 503.18 235.65 506.30 237.70 508.80 C239.75 511.30 241.28 514.18 242.50 516.30 C243.72 518.42 244.37 520.25 245.00 521.50 C245.63 522.75 246.08 523.42 246.30 523.80 C246.02 524.25 245.62 525.17 244.60 526.50 C243.58 527.83 242.18 529.92 240.20 531.80 C238.22 533.68 235.62 536.00 232.70 537.80 C229.78 539.60 226.47 541.30 222.70 542.60 C218.93 543.90 214.70 544.87 210.10 545.60 C205.50 546.33 200.52 546.77 195.10 547.00 C189.68 547.23 183.02 547.23 177.60 547.00 C172.18 546.77 167.20 546.33 162.60 545.60 C158.00 544.87 153.77 543.93 150.00 542.60 C146.23 541.27 142.92 539.70 140.00 537.60 C137.08 535.50 134.37 532.63 132.50 530.00 C130.63 527.37 129.42 523.17 128.80 521.80Z" fill="#f8f8f8"/><path d="M128.80 521.80 C129.42 521.58 130.97 520.63 132.50 520.50 C134.03 520.37 135.92 520.75 138.00 521.00 C140.08 521.25 141.73 521.40 145.00 522.00 C148.27 522.60 153.42 523.88 157.60 524.60 C161.78 525.32 166.77 526.23 170.10 526.30 C173.43 526.37 175.10 525.62 177.60 525.00 C180.10 524.38 182.80 522.80 185.10 522.60 C187.40 522.40 189.93 523.47 191.40 523.80 C192.87 524.13 192.87 524.87 193.90 524.60 C194.93 524.33 196.15 522.47 197.60 522.20 C199.05 521.93 199.68 522.60 202.60 523.00 C205.52 523.40 210.50 524.33 215.10 524.60 C219.70 524.87 225.60 524.60 230.20 524.60 C234.80 524.60 240.02 524.73 242.70 524.60 C245.38 524.47 245.70 523.93 246.30 523.80"/><path d="M246.3 523.9 C258 522.8 270 521.6 281.3 521.2"/></g>
<g transform="translate(305,0)"><path d="M128.80 521.80 C129.83 520.67 132.72 517.58 135.00 515.00 C137.28 512.42 139.58 508.88 142.50 506.30 C145.42 503.72 149.15 501.08 152.50 499.50 C155.85 497.92 159.25 497.22 162.60 496.80 C165.95 496.38 169.27 496.55 172.60 497.00 C175.93 497.45 179.27 498.92 182.60 499.50 C185.93 500.08 189.27 500.62 192.60 500.50 C195.93 500.38 199.27 499.42 202.60 498.80 C205.93 498.18 209.25 497.02 212.60 496.80 C215.95 496.58 219.77 496.75 222.70 497.50 C225.63 498.25 227.70 499.42 230.20 501.30 C232.70 503.18 235.65 506.30 237.70 508.80 C239.75 511.30 241.28 514.18 242.50 516.30 C243.72 518.42 244.37 520.25 245.00 521.50 C245.63 522.75 246.08 523.42 246.30 523.80 C246.02 524.25 245.62 525.17 244.60 526.50 C243.58 527.83 242.18 529.92 240.20 531.80 C238.22 533.68 235.62 536.00 232.70 537.80 C229.78 539.60 226.47 541.30 222.70 542.60 C218.93 543.90 214.70 544.87 210.10 545.60 C205.50 546.33 200.52 546.77 195.10 547.00 C189.68 547.23 183.02 547.23 177.60 547.00 C172.18 546.77 167.20 546.33 162.60 545.60 C158.00 544.87 153.77 543.93 150.00 542.60 C146.23 541.27 142.92 539.70 140.00 537.60 C137.08 535.50 134.37 532.63 132.50 530.00 C130.63 527.37 129.42 523.17 128.80 521.80Z" fill="#f8f8f8"/><path d="M128.80 521.80 C129.42 521.58 130.97 520.63 132.50 520.50 C134.03 520.37 135.92 520.75 138.00 521.00 C140.08 521.25 141.73 521.40 145.00 522.00 C148.27 522.60 153.42 523.88 157.60 524.60 C161.78 525.32 166.77 526.23 170.10 526.30 C173.43 526.37 175.10 525.62 177.60 525.00 C180.10 524.38 182.80 522.80 185.10 522.60 C187.40 522.40 189.93 523.47 191.40 523.80 C192.87 524.13 192.87 524.87 193.90 524.60 C194.93 524.33 196.15 522.47 197.60 522.20 C199.05 521.93 199.68 522.60 202.60 523.00 C205.52 523.40 210.50 524.33 215.10 524.60 C219.70 524.87 225.60 524.60 230.20 524.60 C234.80 524.60 240.02 524.73 242.70 524.60 C245.38 524.47 245.70 523.93 246.30 523.80"/><path d="M246.3 523.9 C260 523.6 272 523.4 285.2 523.3"/></g>
<path d="M457.50 499.50 C456.75 498.12 453.83 494.08 453.00 491.25 C452.17 488.42 452.17 485.42 452.50 482.50 C452.83 479.58 453.54 476.33 455.00 473.75 C456.46 471.17 458.75 468.79 461.25 467.00 C463.75 465.21 466.88 463.83 470.00 463.00 C473.12 462.17 477.29 461.97 480.00 462.00 C482.71 462.03 485.21 463.00 486.25 463.20"/><path d="M486.25 463.50 C486.38 462.83 486.38 460.50 487.00 459.50 C487.62 458.50 488.67 457.62 490.00 457.50 C491.33 457.38 493.42 458.00 495.00 458.75 C496.58 459.50 498.58 461.04 499.50 462.00 C500.42 462.96 500.58 463.97 500.50 464.50 C500.42 465.03 499.92 465.08 499.00 465.20 C498.08 465.32 495.67 465.20 495.00 465.20"/><path d="M500.30 463.80 C501.29 464.62 504.43 467.30 506.25 468.75 C508.07 470.20 510.00 471.67 511.25 472.50 C512.50 473.33 512.92 473.83 513.75 473.75 C514.58 473.67 515.42 473.04 516.25 472.00 C517.08 470.96 517.92 469.71 518.75 467.50 C519.58 465.29 520.21 461.17 521.25 458.75 C522.29 456.33 523.12 454.38 525.00 453.00 C526.88 451.62 529.17 451.08 532.50 450.50 C535.83 449.92 539.25 449.71 545.00 449.50 C550.75 449.29 563.33 449.29 567.00 449.25"/>
</g>
<g fill="#d6d264"><circle cx="206.60" cy="489" r="1.1"/><circle cx="212.42" cy="489" r="1.1"/><circle cx="218.24" cy="489" r="1.1"/><circle cx="224.06" cy="489" r="1.1"/><circle cx="229.88" cy="489" r="1.1"/><circle cx="235.70" cy="489" r="1.1"/></g>
<path d="M493.00 485.75 C494.58 485.88 499.25 486.50 502.50 486.50 C505.75 486.50 509.17 485.79 512.50 485.75 C515.83 485.71 519.38 485.54 522.50 486.25 C525.62 486.96 528.54 488.46 531.25 490.00 C533.96 491.54 536.58 493.62 538.75 495.50 C540.92 497.38 543.00 499.75 544.25 501.25 C545.50 502.75 545.92 503.96 546.25 504.50" fill="none" stroke="url(#gYc)" stroke-width="2.2" stroke-linecap="round"/>
</svg>
<div class="t hw" style="left:109.7px;top:-3px;transform:scaleX(1.0461)">SCIENTIFIC</div><div class="t hw" style="left:310.57px;top:-3px;transform:scaleX(1.1325)">ZONING</div><div class="t hw" style="left:463.03px;top:-3px;transform:scaleX(1.0367)">DESIGN</div>
<div class="t hw" style="left:28.54px;top:41.3px;transform:scaleX(0.9821)">FITS</div><div class="t hw" style="left:107.9px;top:41.3px;transform:scaleX(1.027)">THE</div><div class="t hw" style="left:184.87px;top:41.3px;transform:scaleX(1.0648)">HEAD</div><div class="t hw" style="left:292.75px;top:41.3px;transform:scaleX(1.1537)">AND</div><div class="t hw" style="left:381.65px;top:41.3px;transform:scaleX(1.0509)">CERVICAL</div><div class="t hw" style="left:567.39px;top:41.3px;transform:scaleX(1.0142)">SPINE</div>
<div class="t" id="sub">Fits the curve of neck. Relieves travel strain</div>
<div class="t" id="d1"><span class="b">10</span>cm/<span class="b">3.9</span>in</div>
<div class="t" id="d2"><span class="b">7</span>cm/<span class="b">2.8</span>in</div>
<div class="t" id="c1">Lay flat position</div>
<div class="t" id="c2">Side-lying position</div>
<div class="t" id="p1">According to the ergonomic curve</div>
<div class="t" id="p2">Keeps cervical vertebrae parallel even when sleeping</div>
<div class="t" id="p3">Pillow uses curved traction</div>
<div class="t" id="p4">Concave in the center to ease your sleep</div>
</body></html>
